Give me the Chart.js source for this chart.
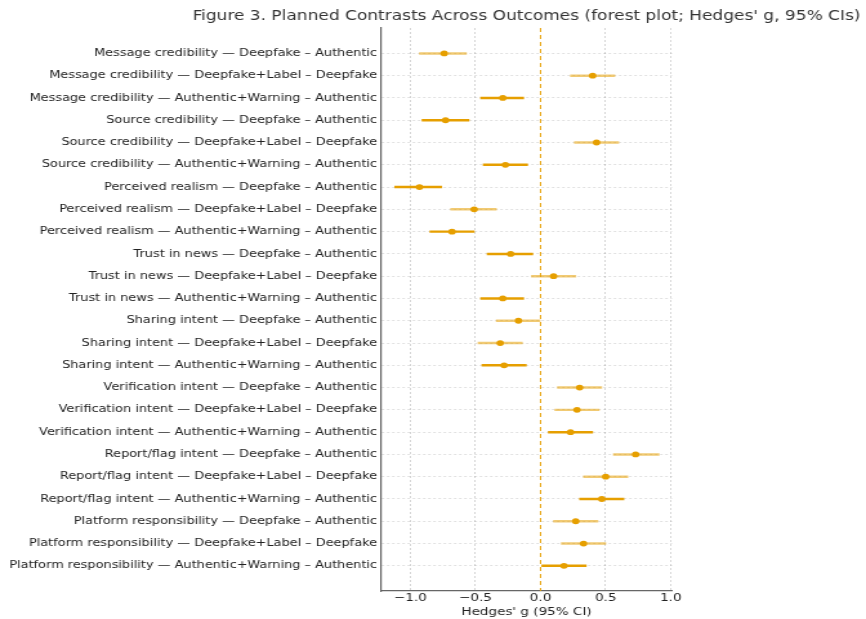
<!DOCTYPE html>
<html lang="en">
<head>
    <meta charset="UTF-8">
    <title>Figure 3. Planned Contrasts Across Outcomes</title>
    <style>
        body {
            margin: 0;
            background: #ffffff;
        }

        /* the figure is drawn narrow and stretched sideways, like the source image */
        #forestChart {
            display: block;
            width: 866px !important;
            height: 619px !important;
        }
    </style>
    <script src="https://cdn.jsdelivr.net/npm/chart.js"></script>
</head>
<body>
    <canvas id="forestChart" width="672" height="619" style="width: 866px; height: 619px;"></canvas>

    <script>
        const titleText = "Figure 3. Planned Contrasts Across Outcomes (forest plot; Hedges' g, 95% CIs)";

        const outcomes = [
            'Message credibility', 'Source credibility', 'Perceived realism', 'Trust in news',
            'Sharing intent', 'Verification intent', 'Report/flag intent', 'Platform responsibility'
        ];
        const contrasts = ['Deepfake – Authentic', 'Deepfake+Label – Deepfake', 'Authentic+Warning – Authentic'];

        // one row per outcome x contrast, top to bottom
        const rowLabels = outcomes.flatMap(o => contrasts.map(c => `${o} — ${c}`));

        const hedgesG = [-0.74, 0.40, -0.29, -0.73, 0.43, -0.27, -0.93, -0.51, -0.68, -0.23, 0.10, -0.29,
                         -0.17, -0.31, -0.28, 0.30, 0.28, 0.23, 0.73, 0.50, 0.47, 0.27, 0.33, 0.18];
        const ciLow   = [-0.93, 0.23, -0.46, -0.91, 0.26, -0.44, -1.12, -0.69, -0.85, -0.41, -0.07, -0.46,
                         -0.34, -0.48, -0.45, 0.13, 0.11, 0.06, 0.56, 0.33, 0.30, 0.10, 0.16, 0.01];
        const ciHigh  = [-0.57, 0.57, -0.13, -0.55, 0.60, -0.10, -0.76, -0.34, -0.51, -0.06, 0.27, -0.13,
                         0.00, -0.14, -0.11, 0.47, 0.45, 0.40, 0.91, 0.67, 0.64, 0.44, 0.50, 0.35];
        const xTicks = [-1.0, -0.5, 0.0, 0.5, 1.0];

        // style only: which CI whiskers are drawn solid vs faded
        const ciSolid = [0, 0, 1, 1, 0, 1, 1, 0, 1, 1, 0, 1, 0, 0, 1, 0, 0, 1, 0, 0, 1, 0, 0, 1];

        const orange = '#E69F00';
        const orangeFaded = 'rgba(230, 159, 0, 0.55)';
        const yMin = -1.14, yMax = rowLabels.length - 1 + 1.13;

        Chart.defaults.font.family = '"DejaVu Sans", sans-serif';
        Chart.defaults.color = '#333';

        const figureTitle = {
            id: 'figureTitle',
            afterDraw(chart) {
                const { ctx, chartArea } = chart;
                ctx.save();
                ctx.font = '13.2px "DejaVu Sans"';
                ctx.fillStyle = '#333';
                ctx.textAlign = 'center';
                ctx.textBaseline = 'middle';
                ctx.fillText(titleText, (chartArea.left + chartArea.right) / 2, 17);
                ctx.restore();
            }
        };

        const ctx = document.getElementById('forestChart').getContext('2d');
        new Chart(ctx, {
            type: 'bar',
            data: {
                datasets: [
                    {
                        type: 'scatter',
                        label: "Hedges' g",
                        data: hedgesG.map((v, i) => ({ x: v, y: i })),
                        backgroundColor: orange,
                        borderWidth: 0,
                        pointRadius: 2.9,
                        order: 1
                    },
                    {
                        type: 'bar',
                        label: '95% CI',
                        indexAxis: 'y',
                        data: ciLow.map((lo, i) => ({ x: [lo, ciHigh[i]], y: i })),
                        backgroundColor: ciSolid.map(s => s ? orange : orangeFaded),
                        barThickness: 1.8,
                        order: 2
                    },
                    {
                        type: 'scatter',
                        label: 'zero',
                        data: [{ x: 0, y: yMin }, { x: 0, y: yMax }],
                        showLine: true,
                        borderColor: orange,
                        borderWidth: 1,
                        borderDash: [4, 3],
                        pointRadius: 0,
                        order: 3
                    }
                ]
            },
            options: {
                indexAxis: 'y',
                responsive: false,
                animation: false,
                layout: { padding: { top: 28, right: 150.5, bottom: 0, left: 0 } },
                plugins: {
                    legend: { display: false },
                    tooltip: { enabled: false }
                },
                scales: {
                    x: {
                        type: 'linear',
                        min: -1.226,
                        max: 1.010,
                        afterBuildTicks: s => { s.ticks = xTicks.map(v => ({ value: v })); },
                        afterFit: s => { s.height = 28; },
                        ticks: {
                            padding: 1,
                            color: '#222',
                            font: { size: 10.5 },
                            callback: v => (v < 0 ? '\u2212' : '') + Math.abs(v).toFixed(1)
                        },
                        grid: {
                            color: c => c.tick && c.tick.value === 0 ? 'rgba(0,0,0,0)' : 'rgba(0,0,0,0.16)',
                            drawTicks: false
                        },
                        border: { display: true, color: '#666', width: 1.2, dash: [2, 2] },
                        title: {
                            display: true,
                            text: "Hedges' g (95% CI)",
                            color: '#222',
                            font: { size: 10.5 },
                            padding: { top: 0, bottom: 0 }
                        }
                    },
                    y: {
                        type: 'linear',
                        reverse: true,
                        offset: false,
                        min: yMin,
                        max: yMax,
                        afterBuildTicks: s => { s.ticks = rowLabels.map((_, i) => ({ value: i })); },
                        afterFit: s => { s.width = 295.6; },
                        ticks: {
                            autoSkip: false,
                            padding: 3,
                            color: '#222',
                            font: { size: 10 },
                            callback: v => rowLabels[v]
                        },
                        grid: { color: 'rgba(0,0,0,0.12)', drawTicks: false, offset: false },
                        border: { display: true, color: '#666', width: 1.2, dash: [2, 2] }
                    }
                }
            },
            plugins: [figureTitle]
        });
    </script>
</body>
</html>
